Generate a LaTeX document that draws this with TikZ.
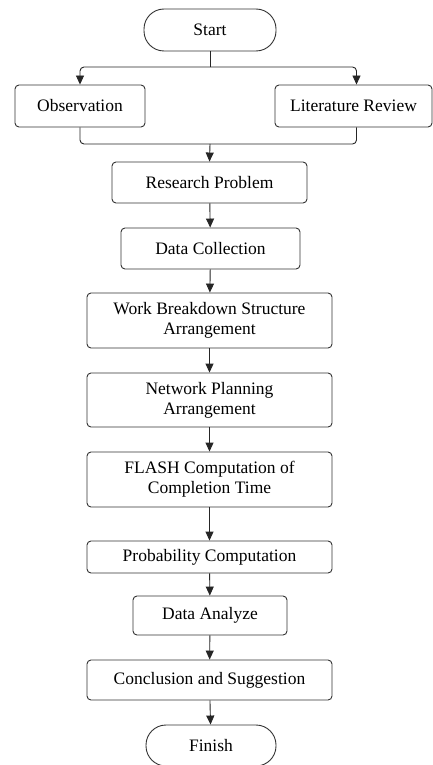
\documentclass[tikz,border=0pt]{standalone}
\usepackage{fontspec}
\setmainfont{Liberation Serif}
\usetikzlibrary{arrows.meta}
\begin{document}
\begin{tikzpicture}[x=1pt,y=-1pt,
  box/.style={draw=black!80, line width=0.9pt, rounded corners=4pt, align=center, inner sep=0pt,
    font=\fontsize{17.5}{20}\selectfont, fill=white},
  term/.style={box, rounded corners=20pt},
  conn/.style={draw=black!85, line width=0.9pt, rounded corners=4pt},
  arr/.style={conn, -{Triangle[length=9pt,width=8pt]}}]
\useasboundingbox[fill=white] (0,0) rectangle (433,765);
\node[term, minimum width=132pt, minimum height=42pt] (start) at (210,30) {Start};
\node[box, minimum width=130pt, minimum height=42pt] (obs) at (80,106) {Observation};
\node[box, minimum width=157pt, minimum height=42pt] (lit) at (353.5,106) {Literature Review};
\node[box, minimum width=195pt, minimum height=41pt] (rp) at (209.5,182.5) {Research Problem};
\node[box, minimum width=179pt, minimum height=41pt] (dc) at (210.5,248.5) {Data Collection};
\node[box, minimum width=245pt, minimum height=55pt] (wbs) at (209.5,320.5) {Work Breakdown Structure\\Arrangement};
\node[box, minimum width=245pt, minimum height=54pt] (np) at (209.5,400) {Network Planning\\Arrangement};
\node[box, minimum width=245pt, minimum height=55pt] (flash) at (209.5,479.5) {FLASH Computation of\\Completion Time};
\node[box, minimum width=245pt, minimum height=32pt] (prob) at (209.5,557) {Probability Computation};
\node[box, minimum width=154pt, minimum height=39pt] (da) at (210,615.5) {Data Analyze};
\node[box, minimum width=245pt, minimum height=40pt] (conc) at (209.5,680) {Conclusion and Suggestion};
\node[term, minimum width=130pt, minimum height=41pt] (finish) at (211,745.5) {Finish};
\coordinate (split) at (210,67);
\coordinate (merge) at (210,144);
\draw[conn] (start.south) -- (split);
\draw[arr] (split) -| (obs.north);
\draw[arr] (split) -| ([xshift=3pt]lit.north);
\draw[conn] (obs.south) |- (merge);
\draw[conn] ([xshift=3pt]lit.south) |- (merge);
\draw[arr] (merge) -- (rp.north);
\draw[arr] (rp) -- (dc);
\draw[arr] (dc) -- (wbs);
\draw[arr] (wbs) -- (np);
\draw[arr] (np) -- (flash);
\draw[arr] (flash) -- (prob);
\draw[arr] (prob) -- (da);
\draw[arr] (da) -- (conc);
\draw[arr] (conc) -- (finish);
\end{tikzpicture}
\end{document}
